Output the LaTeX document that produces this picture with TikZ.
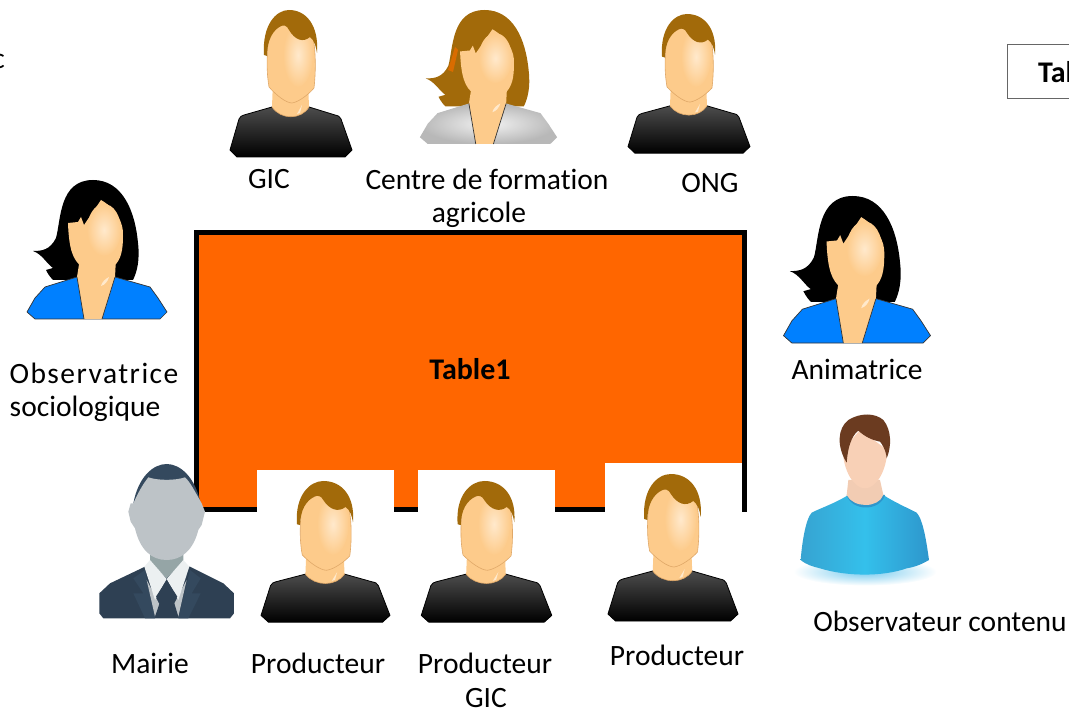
\documentclass[tikz,border=0pt]{standalone}
\usepackage{fontspec}
\setmainfont{Carlito}[Ligatures=NoCommon]
\newfontfamily\spacedfont{Carlito}[Ligatures=NoCommon,LetterSpace=5]

\definecolor{tableorange}{HTML}{FF6600}
\definecolor{hairbrown}{HTML}{A26A0A}
\definecolor{hairblack}{HTML}{000000}
\definecolor{faceskin}{HTML}{FDCB8B}
\definecolor{faceglow}{HTML}{FFE9CC}
\definecolor{faceline}{HTML}{E0A868}
\definecolor{jacketblue}{HTML}{0080FF}
\definecolor{suitdark}{HTML}{2E4053}
\definecolor{suitlight}{HTML}{34495E}
\definecolor{headgray}{HTML}{BDC3C7}
\definecolor{neckgray}{HTML}{95A5A6}
\definecolor{collarwhite}{HTML}{ECF0F1}
\definecolor{teeblue}{HTML}{3DB5E8}
\definecolor{teeshade}{HTML}{2E96CC}
\definecolor{darkhair}{HTML}{6B3B20}
\definecolor{paleskin}{HTML}{F8D0B6}

\tikzset{
  lbl/.style={font=\fontsize{29.5}{32}\selectfont, inner sep=0pt},
  boldlbl/.style={lbl, font=\fontsize{30}{32}\selectfont\bfseries},
  pics/man/.style={code={
    %Paita
    \draw[black, line width=.8pt, top color=black!70, bottom color=black]
      (-19,97) -- (-47,105) .. controls (-50,106) .. (-52,109) -- (-61,140) -- (-54,147)
      -- (54,147) -- (61,140) -- (50,109) .. controls (48,106) .. (44,105) -- (18,97) -- cycle;
    %Kaula
    \fill[faceskin] (-18,70) -- (-19,97) .. controls (-10,110) and (10,110) .. (18,97) -- (17,70) -- cycle;
    \draw[faceline, line width=.6pt] (-19,97) .. controls (-10,110) and (10,110) .. (18,97);
    \fill[faceglow] (6,104) -- (11,95) -- (9,103) -- cycle;
    %Kasvot
    \draw[faceline, line width=.6pt, fill=faceskin] (-22,22) .. controls (-25,50) and (-24,65) .. (-22,77)
      .. controls (-15,85) and (-5,93) .. (1,93) .. controls (8,92) and (18,84) .. (23,78)
      .. controls (25,60) and (25,40) .. (21,22) -- (-2,12) -- cycle;
    \shade[inner color=faceglow, outer color=faceskin] (7,45) ellipse (15 and 32);
    %Hiukset
    \fill[hairbrown] (-27,45) .. controls (-29,15) and (-15,0) .. (-2,0) .. controls (15,0) and (28,15) .. (26,43)
      .. controls (25,36) and (23,30) .. (19,27) .. controls (12,33) and (4,30) .. (-2,20)
      .. controls (-4,15) and (-8,15) .. (-10,16) .. controls (-18,20) and (-24,30) .. (-24,46) -- cycle;
  }},
  pics/woman/.style 2 args={code={
    %Hiukset
    \fill[#1] (-4,0) .. controls (25,0) and (38,30) .. (41,63) .. controls (43,80) and (40,92) .. (36,100)
      -- (-44,100) .. controls (-48,96) and (-50,92) .. (-51,90) .. controls (-48,89) .. (-44,88)
      .. controls (-50,84) and (-55,74) .. (-64,71) .. controls (-55,71) and (-47,70) .. (-41,58)
      .. controls (-36,40) and (-38,0) .. (-4,0) -- cycle;
    %Takki
    \path[line width=.7pt, #2] (-20,97) -- (-52,107) -- (-62,118) -- (-70,132) -- (-62,139)
      -- (63,139) -- (70,132) -- (61,118) -- (53,107) -- (18,97) -- cycle;
    %Kaula
    \fill[faceskin] (19,78) -- (18,97) -- (5,139) -- (-13,139) -- (-20,97) -- (-17,78) -- cycle;
    %Kasvot
    \fill[faceskin] (4,20) .. controls (18,28) and (27,42) .. (26,56) .. controls (26,70) and (24,80) .. (17,86)
      -- (-15,87) .. controls (-24,80) and (-28,70) .. (-29,43)
      -- (-19,42) -- (-16,37) -- (-13,45) -- cycle;
    \draw[black!80, line width=.7pt] (-20,97) -- (-13,139) (18,97) -- (5,139);
    \shade[inner color=faceglow, outer color=faceskin] (7,50) ellipse (17 and 26);
    \fill[faceglow] (4,106) .. controls (5,102) and (8,99) .. (12,97) .. controls (11,101) and (8,105) .. (4,106) -- cycle;
  }}
}

\begin{document}
\begin{tikzpicture}[x=1pt,y=-1pt]
\clip (0,0) rectangle (1069,708);
\useasboundingbox (0,0) rectangle (1069,708);

%Table
\draw[black, line width=5pt, fill=tableorange] (196.5,232.5) rectangle (744.5,509.5);
\node[boldlbl] (table1) at (470,369) {Table1};

%Box and letter cut at the edges
\draw[black!60, line width=1pt] (1007,45) -- (1080,45) (1007,45) -- (1007,99) -- (1080,99);
\node[boldlbl, anchor=west] (tab) at (1038,72) {Tab};
\node[lbl, anchor=east] (cut) at (5,61) {c};

%Top row
\pic (gicman) at (291,10) {man};
\pic[yscale=.947] (ongman) at (689,14) {man};
\pic[xscale=.98, yscale=.964] (centrewoman) at (488.5,10) {woman={hairbrown}{inner color=black!5, outer color=black!28}};
\fill[orange!85!black] (455,47) -- (458,50) -- (453,72) -- (448,70) -- cycle;

%Sides
\pic (obswoman) at (97,180) {woman={hairblack}{draw=black!80, fill=jacketblue}};
\pic[xscale=1.05, yscale=1.058] (animwoman) at (857,196) {woman={hairblack}{draw=black!80, fill=jacketblue}};

%Producers
\foreach \n/\x/\y/\sx/\sy/\wx/\wy in {one/325.5/481/1.057/.96/257/470, two/486.5/481/1.07/.96/418/470, three/673/474/1.066/1/605/463}{
  \fill[white] (\wx,\wy) rectangle ++(137,60);
  \pic[xscale=\sx, yscale=\sy] (prod\n) at (\x,\y) {man};
}

%Mairie
\begin{scope}[shift={(90,450)}, scale=1/3]
  \fill[suitdark] (28,430) -- (60,400) -- (165,350) -- (300,350) -- (400,400) -- (432,430) -- (432,490) -- (420,505) -- (40,505) -- (28,490) -- cycle;
  \fill[suitlight] (130,385) -- (165,360) -- (195,505) -- (165,505) -- (130,430) -- (160,430) -- cycle;
  \fill[suitlight] (332,385) -- (300,360) -- (265,505) -- (295,505) -- (332,430) -- (305,430) -- cycle;
  \fill[headgray] (170,390) -- (212,470) -- (195,500) -- cycle;
  \fill[headgray] (290,390) -- (248,470) -- (265,500) -- cycle;
  \fill[neckgray] (180,300) -- (180,335) -- (230,385) -- (280,335) -- (280,300) -- cycle;
  \fill[collarwhite] (180,330) -- (163,350) -- (195,450) -- (230,387) -- cycle;
  \fill[collarwhite] (280,330) -- (298,350) -- (265,450) -- (230,387) -- cycle;
  \fill[suitdark] (230,390) -- (262,440) -- (250,450) -- (265,500) -- (195,500) -- (212,450) -- (198,440) -- cycle;
  \fill[suitlight] (130,160) .. controls (145,80) and (190,42) .. (230,42) .. controls (270,42) and (315,80) .. (332,160) -- cycle;
  \fill[headgray] (115,185) -- (122,160) -- (130,160) .. controls (150,115) and (165,95) .. (175,82) .. controls (205,92) and (255,92) .. (285,82)
    .. controls (300,95) and (315,125) .. (335,160) -- (345,185) -- (335,225) -- (325,240) .. controls (310,300) and (275,330) .. (230,330)
    .. controls (185,330) and (150,300) .. (135,235) -- (122,215) -- cycle;
\end{scope}

%Observer
\begin{scope}[shift={(780,400)}, scale=1/3]
  \shade[inner color=teeblue!70, outer color=white] (255,515) ellipse (215 and 42);
  \shade[left color=teeblue!90!black, right color=teeshade, middle color=teeblue!85!cyan]
    (205,285) .. controls (165,310) and (120,325) .. (95,338) .. controls (75,360) and (65,440) .. (62,480) .. controls (80,495) and (100,500) .. (120,505)
    .. controls (200,530) and (310,530) .. (380,505) .. controls (410,500) and (430,490) .. (447,480)
    .. controls (440,430) and (430,360) .. (410,338) .. controls (385,325) and (340,305) .. (310,285) -- cycle;
  \fill[teeshade] (200,285) .. controls (215,335) and (300,335) .. (315,285) -- cycle;
  \fill[paleskin!95!gray] (205,240) -- (200,285) .. controls (220,325) and (295,325) .. (310,285) -- (300,240) -- cycle;
  \fill[paleskin] (188,150) .. controls (190,210) and (220,265) .. (255,265) .. controls (290,265) and (320,210) .. (322,150) -- (240,90) -- cycle;
  \fill[darkhair] (200,188) .. controls (170,140) and (172,85) .. (205,60) .. controls (240,38) and (285,38) .. (310,60)
    .. controls (335,90) and (335,140) .. (320,175) .. controls (318,150) and (305,130) .. (300,125)
    .. controls (275,120) and (255,110) .. (235,92) .. controls (225,100) and (205,120) .. (200,188) -- cycle;
\end{scope}

%Labels
\node[lbl] (gic) at (269,179) {GIC};
\node[lbl] (centre) at (487,179) {Centre de formation};
\node[lbl] (agricole) at (479,215) {agricole};
\node[lbl] (ong) at (710,183) {ONG};
\node[lbl] (obs) at (94,373) {\spacedfont Observatrice};
\node[lbl] (socio) at (85,409) {sociologique};
\node[lbl] (anim) at (857,369) {Animatrice};
\node[lbl] (obsc) at (940,621) {Observateur contenu};
\node[lbl] (mairie) at (150,663) {Mairie};
\node[lbl] (prod1) at (318,663) {Producteur};
\node[lbl] (prod2) at (485,663) {Producteur};
\node[lbl] (gic2) at (486,698) {GIC};
\node[lbl] (prod3) at (677,655) {Producteur};

\end{tikzpicture}
\end{document}
